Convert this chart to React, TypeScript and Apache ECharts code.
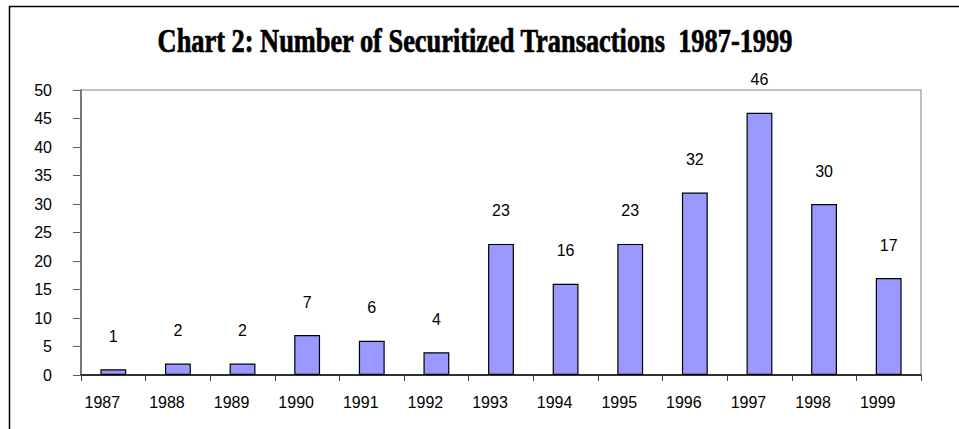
import React, { useEffect, useRef } from "react";
import * as echarts from "echarts";

const years = ["1987", "1988", "1989", "1990", "1991", "1992", "1993", "1994", "1995", "1996", "1997", "1998", "1999"];
const transactions = [1, 2, 2, 7, 6, 4, 23, 16, 23, 32, 46, 30, 17];
const titleText = "Chart 2: Number of Securitized Transactions  1987-1999";

export default function App() {
  const ref = useRef<HTMLDivElement>(null);
  useEffect(() => {
    if (!ref.current) return;
    const chart = echarts.init(ref.current, null, { renderer: "svg" });
    const titleFont = 'bold 33px "Liberation Serif"';
    let scaleX = 0.8;
    try {
      const c = document.createElement("canvas").getContext("2d");
      if (c) {
        c.font = titleFont;
        const w = c.measureText(titleText).width;
        if (w > 0) scaleX = 636 / w;
      }
    } catch (e) {}
    chart.setOption({
      animation: false,
      backgroundColor: "#ffffff",
      grid: { left: 81, right: 38, top: 90, bottom: 54, show: true, borderColor: "#808080", borderWidth: 1 },
      graphic: [
        {
          type: "rect",
          shape: { x: 9.5, y: 6.5, width: 1200, height: 1200 },
          style: { fill: "none", stroke: "#000", lineWidth: 1.5 },
          silent: true,
        },
        {
          type: "text",
          x: 475,
          y: 40,
          scaleX: scaleX,
          style: {
            text: titleText,
            font: titleFont,
            fill: "#000",
            stroke: "#000",
            lineWidth: 0.7,
            align: "center",
            verticalAlign: "middle",
          },
        },
      ],
      xAxis: {
        type: "category",
        data: years,
        axisLine: { show: true, lineStyle: { color: "#000", width: 1.5 } },
        axisTick: { show: true, inside: false, length: 6, alignWithLabel: false, lineStyle: { color: "#404040" } },
        axisLabel: {
          fontFamily: "Liberation Sans",
          fontSize: 16,
          color: "#000",
          margin: 19,
          padding: [0, 22, 0, 0],
        },
        splitLine: { show: false },
      },
      yAxis: {
        type: "value",
        min: 0,
        max: 50,
        interval: 5,
        axisLine: { show: true, lineStyle: { color: "#606060", width: 1.5 } },
        axisTick: { show: true, length: 8, lineStyle: { color: "#606060" } },
        axisLabel: { fontFamily: "Liberation Sans", fontSize: 16, color: "#000", margin: 29 },
        splitLine: { show: false },
      },
      series: [
        {
          type: "bar",
          data: transactions,
          barCategoryGap: "60%",
          itemStyle: { color: "#9999FF", borderColor: "#000", borderWidth: 1.2 },
          label: {
            show: true,
            position: "top",
            distance: 25,
            fontFamily: "Liberation Sans",
            fontSize: 16,
            color: "#000",
          },
        },
      ],
    });
    return () => chart.dispose();
  }, []);
  return <div ref={ref} style={{ position: "fixed", left: 0, top: 0, width: 959, height: 429 }} />;
}
